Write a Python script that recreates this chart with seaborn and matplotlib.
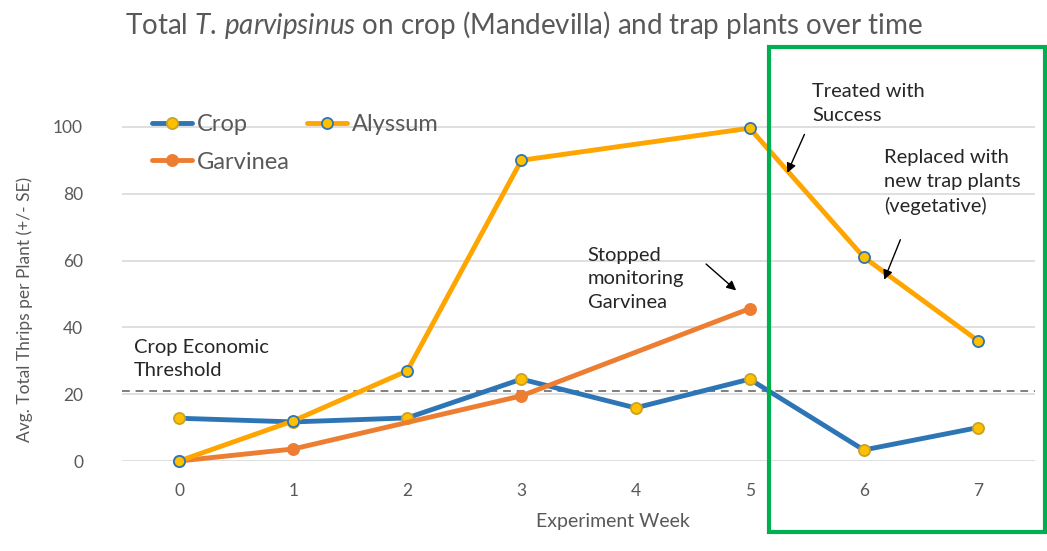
import numpy as np
import pandas as pd
import matplotlib
matplotlib.use("Agg")
import matplotlib.pyplot as plt
import seaborn as sns
from matplotlib.patches import Rectangle

weeks = [0, 1, 2, 3, 4, 5, 6, 7]
crop = [12.8, 11.7, 12.9, 24.5, 15.9, 24.5, 3.3, 10.0]
alyssum = [0.0, 12.0, 27.0, 90.0, np.nan, 99.6, 61.0, 36.0]
garvinea = [0.0, 3.6, np.nan, 19.5, np.nan, 45.6, np.nan, np.nan]
threshold = 21.0
yticks = [0, 20, 40, 60, 80, 100]

sns.set_theme(style="white")
plt.rcParams['font.family'] = ['Lato', 'DejaVu Sans']
plt.rcParams['mathtext.fontset'] = 'custom'
plt.rcParams['mathtext.rm'] = 'Lato'
plt.rcParams['mathtext.it'] = 'Lato:italic'

GRAY = "#595959"
fig = plt.figure(figsize=(10.47, 5.51), dpi=100)
ax = fig.add_axes([0.1165, 0.1633, 0.872, 0.655])

df = pd.DataFrame({"week": weeks, "Crop": crop, "Alyssum": alyssum, "Garvinea": garvinea})

styles = {
    "Crop": dict(color="#2E75B6", mfc="#FFC000", mec="#C9A227"),
    "Alyssum": dict(color="#FFA500", mfc="#FFC000", mec="#2E75B6"),
    "Garvinea": dict(color="#ED7D31", mfc="#ED7D31", mec="#ED7D31"),
}
for name in ["Crop", "Garvinea", "Alyssum"]:
    sub = df[["week", name]].dropna()
    st = styles[name]
    sns.lineplot(data=sub, x="week", y=name, ax=ax, color=st["color"], linewidth=3.5,
                 marker="o", markersize=8, markerfacecolor=st["mfc"],
                 markeredgecolor=st["mec"], markeredgewidth=1.3, label=name,
                 zorder=3, clip_on=False)

ax.axhline(threshold, color="#7F7F7F", linestyle=(0, (4, 3)), linewidth=1.4, zorder=2)

ax.set_xlim(-0.5, 7.5)
ax.set_ylim(0, 108)
ax.set_yticks(yticks)
ax.set_xticks(weeks)
ax.grid(axis="y", color="#D9D9D9", linewidth=1.2)
ax.grid(axis="x", visible=False)
for s in ax.spines.values():
    s.set_visible(False)
ax.tick_params(axis="both", length=0, labelsize=12.5, labelcolor=GRAY)
ax.tick_params(axis="y", pad=28)
ax.tick_params(axis="x", pad=16)
ax.set_xlabel("Experiment Week", fontsize=14, color=GRAY)
ax.xaxis.set_label_coords(0.538, -0.145)
ax.set_ylabel("Avg. Total Thrips per Plant (+/- SE)", fontsize=12.5, color=GRAY)
ax.yaxis.set_label_coords(-0.098, 0.42)

handles, labels = ax.get_legend_handles_labels()
order = [labels.index("Crop"), labels.index("Garvinea"), labels.index("Alyssum")]
ax.legend([handles[i] for i in order], [labels[i] for i in order], ncol=2,
          frameon=False, fontsize=17, loc="upper left", bbox_to_anchor=(0.01, 1.02),
          handlelength=1.7, handletextpad=0.2, columnspacing=0.7, labelspacing=0.7,
          labelcolor=GRAY)

fig.text(0.5, 0.955, r"Total $\mathit{T.\,parvipsinus}$ on crop (Mandevilla) and trap plants over time",
         ha="center", va="center", fontsize=20, color=GRAY)

tc = "#262626"
fs = 14.5
ls = 1.45
ax.text(-0.395, 30.5, "Crop Economic\nThreshold", fontsize=fs, color=tc, va="center",
        ha="left", linespacing=ls)
ax.text(3.58, 54.5, "Stopped\nmonitoring\nGarvinea", fontsize=fs, color=tc, va="center",
        ha="left", linespacing=ls)
ax.text(5.55, 107, "Treated with\nSuccess", fontsize=fs, color=tc, va="center",
        ha="left", linespacing=ls, clip_on=False)
ax.text(6.18, 83.5, "Replaced with\nnew trap plants\n(vegetative)", fontsize=fs, color=tc,
        va="center", ha="left", linespacing=ls)

arrow = dict(arrowstyle="-|>", color="black", lw=1.0, mutation_scale=14)
ax.annotate("", xy=(4.9, 50.5), xytext=(4.6, 59.5), arrowprops=arrow)
ax.annotate("", xy=(5.32, 85.5), xytext=(5.49, 98.5), arrowprops=arrow)
ax.annotate("", xy=(6.17, 53.5), xytext=(6.33, 67), arrowprops=arrow)

fig.patches.append(Rectangle((769 / 1047, 1 - 532 / 551), (1045 - 769) / 1047, (532 - 47) / 551,
                             transform=fig.transFigure, fill=False, edgecolor="#00B050",
                             linewidth=3, zorder=10))

fig.savefig("out.png", dpi=100)
